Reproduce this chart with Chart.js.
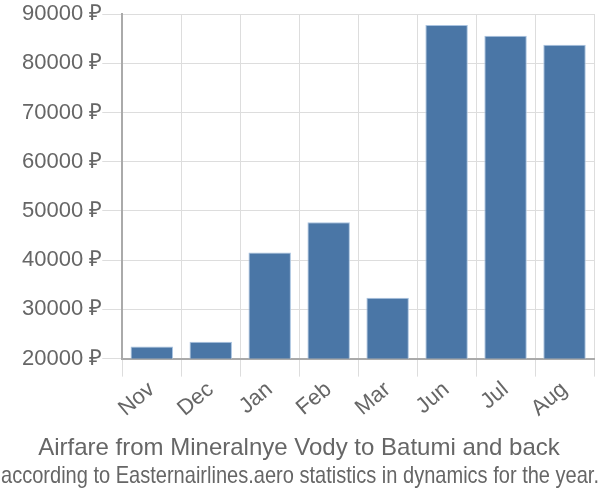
<!DOCTYPE html>
<html>
<head>
<meta charset="utf-8">
<script src="https://cdn.jsdelivr.net/npm/chart.js@4"></script>
<style>
  html, body { margin: 0; padding: 0; background: #fff; }
  #wrap { width: 600px; height: 500px; }
</style>
</head>
<body>
<div id="wrap"><canvas id="chart" width="600" height="500"></canvas></div>
<script>
'use strict';

let months = ['Nov', 'Dec', 'Jan', 'Feb', 'Mar', 'Jun', 'Jul', 'Aug'];
let prices = [22440, 23450, 41550, 47700, 32340, 87750, 85590, 83760];
let yTicks = [20000, 30000, 40000, 50000, 60000, 70000, 80000, 90000];

let titleLine = 'Airfare from Mineralnye Vody to Batumi and back';
let subtitleLine = 'according to Easternairlines.aero statistics in dynamics for the year.';

// two caption lines under the chart, the second one squeezed to fit
let captionPlugin = {
  id: 'caption',
  afterDraw: function (chart) {
    let c = chart.ctx;
    c.save();
    c.fillStyle = '#666';
    c.textAlign = 'center';
    c.textBaseline = 'alphabetic';
    c.font = '24px "Liberation Sans"';
    c.fillText(titleLine, 299, 455, 596);
    c.fillText(subtitleLine, 300, 483, 598);
    c.restore();
  }
};

let chartData = {
  type: 'bar',
  data: {
    labels: months,
    datasets: [{
      data: prices,
      backgroundColor: '#4a76a6',
      borderColor: '#a9c3e0',
      borderWidth: 1,
      barPercentage: 0.72,
      categoryPercentage: 1
    }]
  },
  options: {
    responsive: false,
    animation: false,
    layout: { padding: { top: 14, right: 6, left: 22, bottom: 78 } },
    plugins: {
      legend: { display: false },
      tooltip: { enabled: false }
    },
    scales: {
      x: {
        ticks: {
          color: '#666',
          font: { family: 'Liberation Sans', size: 22 },
          maxRotation: 40,
          minRotation: 40,
          padding: 0
        },
        grid: {
          color: '#ddd',
          tickLength: 18,
          offset: true
        },
        border: { color: '#aaa', width: 2 }
      },
      y: {
        min: 20000,
        max: 90000,
        afterBuildTicks: function (axis) {
          axis.ticks = yTicks.map(function (v) { return { value: v }; });
        },
        ticks: {
          color: '#666',
          font: { family: 'Liberation Sans', size: 22 },
          padding: 0,
          callback: function (v) { return v + ' ₽'; }
        },
        grid: {
          color: '#ddd',
          tickLength: 20
        },
        border: { color: '#aaa', width: 2 }
      }
    }
  },
  plugins: [captionPlugin]
};

let ctx = document.getElementById('chart');
new Chart(ctx, chartData);
</script>
</body>
</html>
